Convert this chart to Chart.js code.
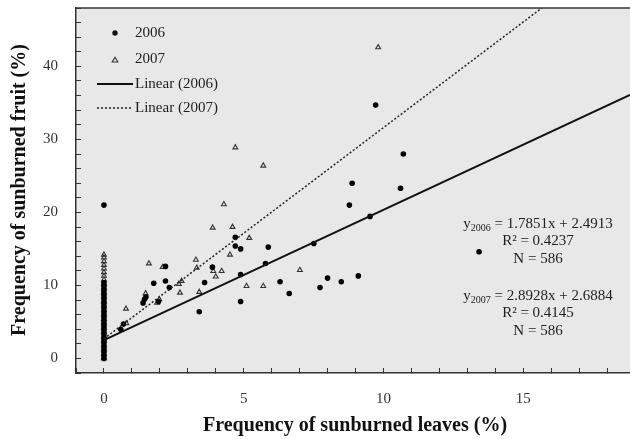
<!DOCTYPE html>
<html>
<head>
<meta charset="utf-8">
<script src="https://cdn.jsdelivr.net/npm/chart.js@4.4.1/dist/chart.umd.min.js"></script>
<style>
  html, body { margin: 0; padding: 0; background: #ffffff; }
  #wrap { width: 630px; height: 439px; }
</style>
</head>
<body>
<div id="wrap"><canvas id="chart" width="630" height="439"></canvas></div>
<script>
// 2006 survey: sunburned leaves (%) vs sunburned fruit (%)
const leaves2006 = [
  0, 0, 0, 0, 0, 0, 0, 0, 0, 0, 0, 0, 0, 0, 0, 0, 0, 0, 0, 0, 0, 0, 0, 0, 0, 0, 0, 0,
  0.6, 0.7, 1.4, 1.45, 1.5, 1.95, 1.78, 2.2, 2.2, 2.34, 3.41, 3.6, 3.88,
  4.7, 4.7, 4.89, 4.89, 4.89, 5.88, 5.78, 6.3, 6.63,
  7.51, 7.73, 8.0, 8.49, 9.1, 8.78, 8.88, 9.52, 9.72, 10.61, 10.71, 13.42
];
const fruit2006 = [
  21, 0, 0.4, 0.8, 1.2, 1.6, 2.0, 2.4, 2.8, 3.2, 3.6, 4.0, 4.4, 4.8, 5.2, 5.6, 6.0, 6.4, 6.8, 7.2, 7.6, 8.0, 8.4, 8.8, 9.2, 9.6, 10.0, 10.4,
  4.0, 4.7, 7.6, 8.1, 8.4, 7.8, 10.3, 12.6, 10.6, 9.7, 6.4, 10.4, 12.5,
  16.6, 15.4, 15.0, 11.5, 7.8, 15.25, 13.0, 10.5, 8.9,
  15.75, 9.7, 11.0, 10.5, 11.3, 21.0, 24.0, 19.45, 34.7, 23.3, 28.0, 14.6
];

// 2007 survey
const leaves2007 = [
  0, 0, 0, 0, 0, 0, 0, 0, 0, 0, 0, 0, 0, 0, 0, 0, 0, 0, 0, 0, 0, 0, 0, 0, 0, 0,
  0.8, 0.79, 1.49, 1.61, 1.9, 1.98, 2.1, 2.68, 2.78, 2.72,
  3.29, 3.32, 3.41, 3.89, 3.91, 4.0, 4.21, 4.29, 4.51, 4.6, 4.7,
  5.1, 5.2, 5.7, 5.7, 7.01, 9.81
];
const fruit2007 = [
  0, 0.6, 1.2, 1.8, 2.4, 3.0, 3.6, 4.2, 4.8, 5.4, 6.0, 6.6, 7.2, 7.8, 8.4, 9.0, 9.6, 10.2, 10.8, 11.3, 11.8, 12.3, 12.8, 13.3, 13.8, 14.2,
  4.8, 6.8, 8.9, 13.0, 7.6, 8.1, 12.5, 10.2, 10.6, 9.0,
  13.5, 12.4, 9.1, 17.9, 11.96, 11.2, 11.96, 21.1, 14.2, 18.0, 28.9,
  9.9, 16.5, 9.9, 26.4, 12.1, 42.6
];

// fitted regressions: slope, intercept, R², N
const seriesYears = ['2006', '2007'];
const slopes = [1.7851, 2.8928];
const intercepts = [2.4913, 2.6884];
const rSquared = ['0.4237', '0.4145'];
const sampleSizes = [586, 586];

// axis settings
const xRange = [-1, 18.82];
const yRange = [-2, 48];
const xLabelTicks = [0, 5, 10, 15];
const yLabelTicks = [0, 10, 20, 30, 40];
const xTitle = 'Frequency of sunburned leaves (%)';
const yTitle = 'Frequency of sunburned fruit (%)';

const toPoints = (xs, ys) => xs.map((x, i) => ({ x: x, y: ys[i] }));
const fitLine = (k) => [xRange[0] + 1, xRange[1]].map(x => ({ x: x, y: slopes[k] * x + intercepts[k] }));

const SERIF = '"Liberation Serif", "DejaVu Serif", serif';

// fixed-size axis boxes with no extra edge padding
const fixBox = (w, h) => (scale) => {
  if (w !== null) scale.width = w;
  if (h !== null) scale.height = h;
  scale.paddingTop = 0;
  scale.paddingBottom = 0;
  scale.paddingLeft = 0;
  scale.paddingRight = 0;
};

const framePlugin = {
  id: 'frame',
  beforeDraw(chart) {
    const { ctx, chartArea: a } = chart;
    ctx.save();
    ctx.fillStyle = '#ffffff';
    ctx.fillRect(0, 0, chart.width, chart.height);
    ctx.fillStyle = '#e8e8e8';
    ctx.fillRect(a.left, a.top, a.right - a.left, a.bottom - a.top);
    ctx.restore();
  },
  afterDraw(chart) {
    const { ctx, chartArea: a } = chart;
    ctx.save();
    // top frame line
    ctx.strokeStyle = '#333333';
    ctx.lineWidth = 1.5;
    ctx.beginPath();
    ctx.moveTo(a.left, a.top);
    ctx.lineTo(a.right, a.top);
    ctx.stroke();

    // legend
    ctx.fillStyle = '#111111';
    ctx.beginPath();
    ctx.arc(115, 33, 2.7, 0, Math.PI * 2);
    ctx.fill();
    ctx.strokeStyle = '#333333';
    ctx.lineWidth = 1.1;
    ctx.beginPath();
    ctx.moveTo(115, 57.3);
    ctx.lineTo(117.8, 62);
    ctx.lineTo(112.2, 62);
    ctx.closePath();
    ctx.stroke();
    ctx.strokeStyle = '#111111';
    ctx.lineWidth = 2;
    ctx.beginPath();
    ctx.moveTo(97, 84);
    ctx.lineTo(133, 84);
    ctx.stroke();
    ctx.strokeStyle = '#222222';
    ctx.lineWidth = 1.5;
    ctx.setLineDash([2, 2]);
    ctx.beginPath();
    ctx.moveTo(97, 108);
    ctx.lineTo(133, 108);
    ctx.stroke();
    ctx.setLineDash([]);

    ctx.font = '15px ' + SERIF;
    ctx.fillStyle = '#222222';
    ctx.textAlign = 'left';
    ctx.textBaseline = 'middle';
    ctx.fillText(seriesYears[0], 135, 33);
    ctx.fillText(seriesYears[1], 135, 59.5);
    ctx.fillText('Linear (' + seriesYears[0] + ')', 135, 84);
    ctx.fillText('Linear (' + seriesYears[1] + ')', 135, 108);

    // regression statistics
    const cx = 538;
    const rows = [[228, 245, 263], [300, 317, 335]];
    ctx.textBaseline = 'alphabetic';
    for (let k = 0; k < 2; k++) {
      const main1 = 'y';
      const sub = seriesYears[k];
      const main2 = ' = ' + slopes[k].toFixed(4) + 'x + ' + intercepts[k].toFixed(4);
      ctx.font = '15px ' + SERIF;
      const w1 = ctx.measureText(main1).width;
      const w3 = ctx.measureText(main2).width;
      ctx.font = '10px ' + SERIF;
      const w2 = ctx.measureText(sub).width;
      let x = cx - (w1 + w2 + w3) / 2;
      const yb = rows[k][0];
      ctx.textAlign = 'left';
      ctx.font = '15px ' + SERIF;
      ctx.fillText(main1, x, yb);
      x += w1;
      ctx.font = '10px ' + SERIF;
      ctx.fillText(sub, x, yb + 3);
      x += w2;
      ctx.font = '15px ' + SERIF;
      ctx.fillText(main2, x, yb);
      ctx.textAlign = 'center';
      ctx.fillText('R\u00B2 = ' + rSquared[k], cx, rows[k][1]);
      ctx.fillText('N = ' + sampleSizes[k], cx, rows[k][2]);
    }

    // axis titles
    ctx.fillStyle = '#111111';
    ctx.font = 'bold 20px ' + SERIF;
    ctx.textAlign = 'center';
    ctx.textBaseline = 'alphabetic';
    ctx.fillText(xTitle, 355, 431);
    ctx.translate(25, 190);
    ctx.rotate(-Math.PI / 2);
    ctx.fillText(yTitle, 0, 0);
    ctx.restore();
  }
};

new Chart(document.getElementById('chart'), {
  type: 'scatter',
  data: {
    datasets: [
      {
        label: seriesYears[0],
        data: toPoints(leaves2006, fruit2006),
        pointStyle: 'circle',
        pointRadius: 2.8,
        pointBackgroundColor: '#000000',
        pointBorderWidth: 0,
        order: 1
      },
      {
        label: seriesYears[1],
        data: toPoints(leaves2007, fruit2007),
        pointStyle: 'triangle',
        pointRadius: 2.8,
        pointBackgroundColor: 'rgba(0,0,0,0)',
        pointBorderColor: '#333333',
        pointBorderWidth: 1.1,
        order: 2
      },
      {
        label: 'Linear (' + seriesYears[0] + ')',
        type: 'line',
        data: fitLine(0),
        borderColor: '#111111',
        borderWidth: 2,
        pointRadius: 0,
        fill: false,
        order: 0
      },
      {
        label: 'Linear (' + seriesYears[1] + ')',
        type: 'line',
        data: fitLine(1),
        borderColor: '#222222',
        borderWidth: 1.5,
        borderDash: [2, 2],
        pointRadius: 0,
        fill: false,
        order: 0
      }
    ]
  },
  options: {
    responsive: false,
    animation: false,
    devicePixelRatio: 1,
    layout: { autoPadding: false, padding: { top: 8, right: 0, left: 0, bottom: 0 } },
    plugins: { legend: { display: false }, tooltip: { enabled: false } },
    scales: {
      x: {
        type: 'linear',
        min: xRange[0],
        max: xRange[1],
        afterFit: fixBox(null, 66),
        border: { display: true, color: '#333333', width: 1.5 },
        grid: { drawOnChartArea: false, drawTicks: true, tickLength: -5, color: '#333333', lineWidth: 1 },
        ticks: {
          stepSize: 1,
          includeBounds: false,
          autoSkip: false,
          maxRotation: 0,
          padding: 22,
          color: '#333333',
          font: { family: SERIF, size: 15 },
          callback: (v) => xLabelTicks.includes(v) ? String(v) : ''
        }
      },
      y: {
        type: 'linear',
        min: yRange[0],
        max: yRange[1],
        afterFit: fixBox(76, null),
        border: { display: true, color: '#333333', width: 1.5 },
        grid: { drawOnChartArea: false, drawTicks: true, tickLength: -5, color: '#333333', lineWidth: 1 },
        ticks: {
          stepSize: 2,
          includeBounds: false,
          autoSkip: false,
          padding: 23,
          color: '#333333',
          font: { family: SERIF, size: 15 },
          callback: (v) => yLabelTicks.includes(v) ? String(v) : ''
        }
      }
    }
  },
  plugins: [framePlugin]
});
</script>
</body>
</html>
